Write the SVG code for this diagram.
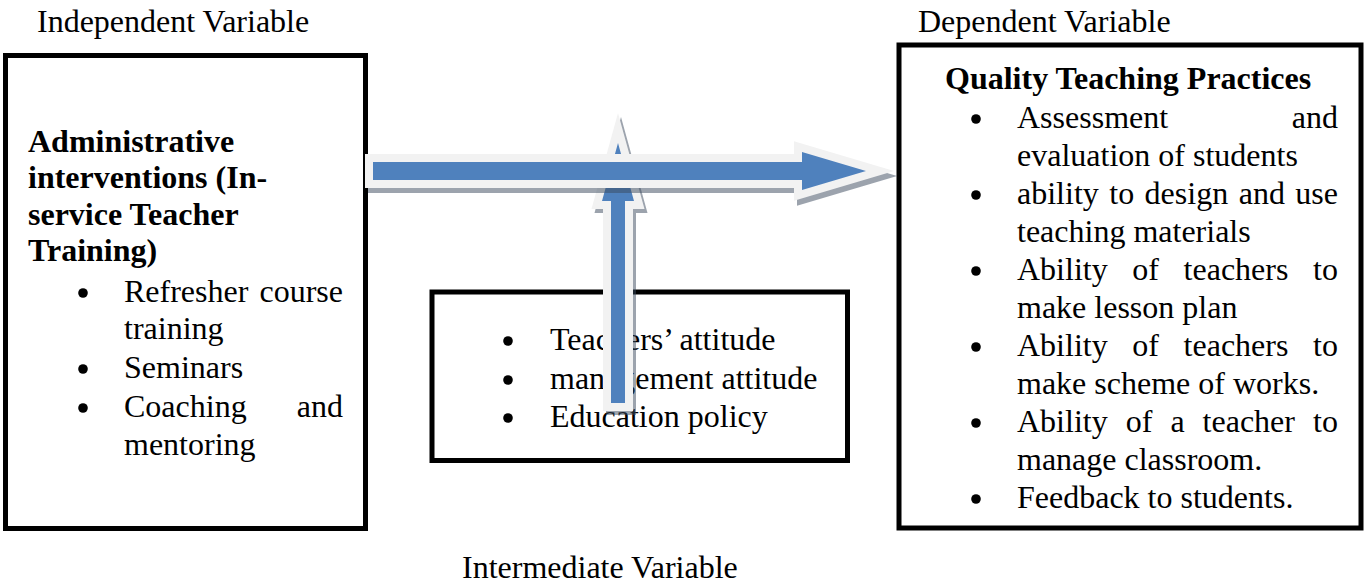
<svg xmlns="http://www.w3.org/2000/svg" width="1366" height="586" viewBox="0 0 1366 586">
<style>
text{font-family:"Liberation Serif","Times New Roman",serif;font-size:32px;fill:#000}
.b{font-weight:bold}
.box{fill:none;stroke:#000;stroke-width:5}
.arrow{fill:#4f81bd;stroke:#f2f2f2;stroke-width:16;stroke-linejoin:miter;stroke-miterlimit:10;paint-order:stroke}
.shadow{fill:#3b4a5e;stroke:#3b4a5e;stroke-width:16;stroke-linejoin:miter;stroke-miterlimit:10;opacity:0.5}
.dot{fill:#000}
</style>
<rect width="1366" height="586" fill="#fff"/>
<g id="labels">
<text x="37" y="32">Independent Variable</text>
<text x="918" y="32">Dependent Variable</text>
<text x="462" y="578">Intermediate Variable</text>
</g>
<g id="node-independent">
<rect class="box" x="5.5" y="55.5" width="360" height="473"/>
<text class="b" x="28" y="152">Administrative</text>
<text class="b" x="28" y="188">interventions (In-</text>
<text class="b" x="28" y="225">service Teacher</text>
<text class="b" x="28" y="261">Training)</text>
<circle class="dot" cx="83" cy="293" r="4.8"/>
<text x="124" y="302">Refresher</text>
<text x="343" y="302" text-anchor="end">course</text>
<text x="124" y="339">training</text>
<circle class="dot" cx="83" cy="369" r="4.8"/>
<text x="124" y="378">Seminars</text>
<circle class="dot" cx="83" cy="408" r="4.8"/>
<text x="124" y="417">Coaching</text>
<text x="343" y="417" text-anchor="end">and</text>
<text x="124" y="455">mentoring</text>
</g>
<g id="node-dependent">
<rect class="box" x="899" y="45" width="462" height="483" stroke-width="4"/>
<text class="b" x="945" y="89">Quality Teaching Practices</text>
<circle class="dot" cx="976" cy="119" r="4.8"/>
<text x="1017" y="128">Assessment</text>
<text x="1338" y="128" text-anchor="end">and</text>
<text x="1017" y="166">evaluation of students</text>
<circle class="dot" cx="976" cy="195" r="4.8"/>
<text y="204"><tspan x="1017">ability</tspan><tspan x="1109.3">to</tspan><tspan x="1144.6">design</tspan><tspan x="1238.7">and</tspan><tspan x="1295.3">use</tspan></text>
<text x="1017" y="242">teaching materials</text>
<circle class="dot" cx="976" cy="271" r="4.8"/>
<text y="280"><tspan x="1017">Ability</tspan><tspan x="1132.3">of</tspan><tspan x="1183.6">teachers</tspan><tspan x="1313">to</tspan></text>
<text x="1017" y="318">make lesson plan</text>
<circle class="dot" cx="976" cy="347" r="4.8"/>
<text y="356"><tspan x="1017">Ability</tspan><tspan x="1132.3">of</tspan><tspan x="1183.6">teachers</tspan><tspan x="1313">to</tspan></text>
<text x="1017" y="394">make scheme of works.</text>
<circle class="dot" cx="976" cy="423" r="4.8"/>
<text y="432"><tspan x="1017">Ability</tspan><tspan x="1125.7">of</tspan><tspan x="1170.4">a</tspan><tspan x="1202.6">teacher</tspan><tspan x="1313">to</tspan></text>
<text x="1017" y="470">manage classroom.</text>
<circle class="dot" cx="976" cy="499" r="4.8"/>
<text x="1017" y="508">Feedback to students.</text>
</g>
<g id="node-intermediate">
<rect class="box" x="432" y="292" width="415.5" height="168.5"/>
<circle class="dot" cx="508" cy="341" r="4.8"/>
<text x="550" y="350">Teachers’ attitude</text>
<circle class="dot" cx="508" cy="380" r="4.8"/>
<text x="550" y="389">management attitude</text>
<circle class="dot" cx="508" cy="418" r="4.8"/>
<text x="550" y="427">Education policy</text>
</g>
<g id="connectors">
<path class="shadow" transform="translate(3,4)" d="M611,403 L611,201 L602,201 L618,143 L634,201 L625,201 L625,403 Z"/>
<path class="arrow" d="M611,403 L611,201 L602,201 L618,143 L634,201 L625,201 L625,403 Z"/>
<path class="shadow" transform="translate(3,5)" d="M373,162 L802,162 L802,152 L866,171 L802,190 L802,180 L373,180 Z"/>
<path class="arrow" d="M373,162 L802,162 L802,152 L866,171 L802,190 L802,180 L373,180 Z"/>
</g>
</svg>
